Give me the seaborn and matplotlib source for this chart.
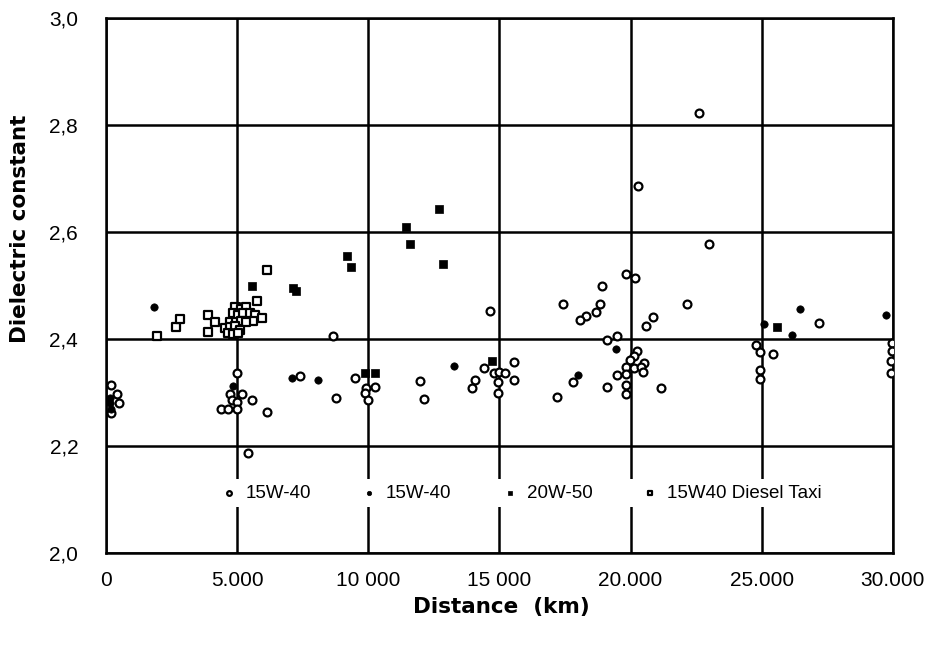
import numpy as np
import pandas as pd
import seaborn as sns
import matplotlib.pyplot as plt

# data (distance in km, dielectric constant)
open_x = [190, 430, 495, 180,
          5000, 4720, 5200, 4790, 5000, 5585, 4400, 4660, 4980, 6120, 5420,
          7390, 8660, 8785, 9480, 10240, 9930, 9860, 9990, 11960, 12110,
          14400, 14050, 13960, 14790, 15000, 15230, 14940, 14940, 15570, 15570,
          14650, 20270, 22620, 23000, 19820, 20150, 18910, 17440, 18850, 18670,
          18300, 18090, 22135, 20870, 20590,
          19090, 19470, 20230, 20140, 19980, 20520, 19830, 20140, 20400, 20460,
          19470, 19830, 19090, 19830, 19830, 21160, 17200, 17800,
          27180, 24800, 24930, 25440, 24930, 24930, 29950, 29950, 29920, 29920]
open_y = [2.314, 2.298, 2.281, 2.262,
          2.337, 2.298, 2.298, 2.286, 2.283, 2.286, 2.270, 2.270, 2.270, 2.264, 2.186,
          2.330, 2.406, 2.290, 2.327, 2.311, 2.308, 2.300, 2.286, 2.322, 2.288,
          2.346, 2.323, 2.308, 2.336, 2.339, 2.337, 2.320, 2.300, 2.357, 2.323,
          2.453, 2.686, 2.822, 2.578, 2.521, 2.515, 2.500, 2.465, 2.465, 2.450,
          2.443, 2.436, 2.465, 2.441, 2.424,
          2.399, 2.406, 2.378, 2.368, 2.361, 2.355, 2.347, 2.345, 2.347, 2.339,
          2.333, 2.335, 2.311, 2.314, 2.297, 2.308, 2.292, 2.319,
          2.430, 2.389, 2.376, 2.372, 2.342, 2.325, 2.392, 2.378, 2.359, 2.336]

dot_x = [1840, 150, 150, 200, 4850, 7090, 8085, 13250, 17980, 19450,
         25090, 26450, 26170, 29750]
dot_y = [2.459, 2.290, 2.280, 2.270, 2.312, 2.327, 2.323, 2.350, 2.333, 2.381,
         2.428, 2.456, 2.407, 2.445]

sq_x = [5550, 7120, 7260, 9200, 9330, 11420, 11600, 12680, 12860,
        9860, 10240, 14730, 25580, 4950, 5150]
sq_y = [2.500, 2.495, 2.490, 2.556, 2.535, 2.610, 2.578, 2.644, 2.541,
        2.336, 2.336, 2.359, 2.423, 2.462, 2.460]

taxi_x = [1930, 2665, 2830, 3900, 4150, 3900, 6155, 5740,
          4910, 5165, 5355, 4850, 5040, 5230, 5485, 5675, 5930, 5610,
          4720, 4950, 5165, 5355, 4530, 4720, 4910, 5100, 4660, 4850, 5040]
taxi_y = [2.406, 2.422, 2.437, 2.445, 2.432, 2.414, 2.529, 2.472,
          2.460, 2.457, 2.460, 2.448, 2.445, 2.448, 2.449, 2.445, 2.439, 2.434,
          2.432, 2.432, 2.434, 2.432, 2.420, 2.422, 2.424, 2.417, 2.412, 2.409, 2.412]

x_ticks = [0, 5000, 10000, 15000, 20000, 25000, 30000]
x_labels = ['0', '5.000', '10 000', '15 000', '20.000', '25.000', '30.000']
y_ticks = [2.0, 2.2, 2.4, 2.6, 2.8, 3.0]
y_labels = ['2,0', '2,2', '2,4', '2,6', '2,8', '3,0']

sns.set_style('white')
plt.rcParams['font.family'] = ['Liberation Sans', 'DejaVu Sans']
plt.rcParams['text.color'] = 'black'
plt.rcParams['xtick.color'] = 'black'
plt.rcParams['ytick.color'] = 'black'
plt.rcParams['axes.labelcolor'] = 'black'

fig = plt.figure(figsize=(9.33, 6.49), dpi=100)
ax = fig.add_axes([0.1136, 0.148, 0.8434, 0.824])

sns.scatterplot(x=open_x, y=open_y, marker='o', s=32, color='white',
                edgecolor='black', linewidth=1.6, label='15W-40', ax=ax, zorder=3)
sns.scatterplot(x=dot_x, y=dot_y, marker='o', s=28, color='black',
                edgecolor='black', linewidth=0.5, label='15W-40', ax=ax, zorder=3)
sns.scatterplot(x=sq_x, y=sq_y, marker='s', s=34, color='black',
                edgecolor='black', linewidth=0.5, label='20W-50', ax=ax, zorder=3)
sns.scatterplot(x=taxi_x, y=taxi_y, marker='s', s=32, color='white',
                edgecolor='black', linewidth=1.6, label='15W40 Diesel Taxi', ax=ax, zorder=3)

ax.set_xlim(0, 30000)
ax.set_ylim(2.0, 3.0)
ax.set_xticks(x_ticks)
ax.set_xticklabels(x_labels)
ax.set_yticks(y_ticks)
ax.set_yticklabels(y_labels)
ax.tick_params(axis='both', labelsize=15, length=0)
ax.tick_params(axis='y', pad=20)
ax.tick_params(axis='x', pad=13)
ax.grid(True, color='black', linewidth=1.8)
ax.set_axisbelow(True)
for sp in ax.spines.values():
    sp.set_color('black')
    sp.set_linewidth(1.8)

ax.set_xlabel('Distance  (km)', fontsize=15.5, fontweight='bold', family='DejaVu Sans')
ax.set_ylabel('Dielectric constant', fontsize=15.5, fontweight='bold', family='DejaVu Sans')
ax.xaxis.set_label_coords(0.503, -0.082)
ax.yaxis.set_label_coords(-0.097, 0.607)

leg = ax.legend(loc='center', bbox_to_anchor=(0.527, 0.112), ncol=4, fontsize=13.5,
                markerscale=0.6, handlelength=1.0, handletextpad=0.4, columnspacing=2.6,
                frameon=True, facecolor='white', edgecolor='none', framealpha=1,
                borderpad=0.3)

fig.savefig('out.png', dpi=100)
